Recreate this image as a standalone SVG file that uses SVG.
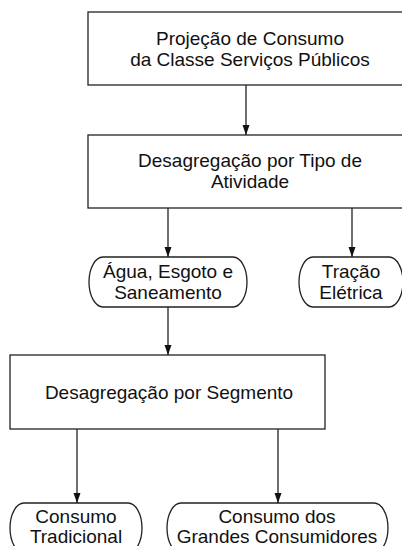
<svg xmlns="http://www.w3.org/2000/svg" width="402" height="546" viewBox="0 0 402 546">
<style>
.box{fill:#fff;stroke:#222;stroke-width:1.3}
.t{font-family:"Liberation Sans",Arial,sans-serif;font-size:19px;fill:#111;text-anchor:middle}
.c{stroke:#222;stroke-width:1.3;fill:none;marker-end:url(#ah)}
</style>
<defs>
<marker id="ah" markerUnits="userSpaceOnUse" markerWidth="10" markerHeight="8" refX="10" refY="4" orient="auto">
<path d="M0,0.5 L10,4 L0,7.5 z" fill="#111"/>
</marker>
</defs>
<rect width="402" height="546" fill="#fff"/>
<g id="n1">
<rect class="box" x="88" y="12" width="325" height="73"/>
<text class="t" x="250" y="45">Projeção de Consumo</text>
<text class="t" x="250" y="66">da Classe Serviços Públicos</text>
</g>
<g id="n2">
<rect class="box" x="88" y="135" width="325" height="73"/>
<text class="t" x="250" y="167">Desagregação por Tipo de</text>
<text class="t" x="250" y="188">Atividade</text>
</g>
<g id="n3">
<path class="box" d="M103,257 H233 A14 25 0 0 1 233,307 H103 A14 25 0 0 1 103,257 Z"/>
<text class="t" x="168" y="278">Água, Esgoto e</text>
<text class="t" x="168" y="299">Saneamento</text>
</g>
<g id="n4">
<path class="box" d="M313,257 H389 A14 25 0 0 1 389,307 H313 A14 25 0 0 1 313,257 Z"/>
<text class="t" x="351" y="278">Tração</text>
<text class="t" x="351" y="299">Elétrica</text>
</g>
<g id="n5">
<rect class="box" x="10" y="355" width="315" height="74"/>
<text class="t" x="169" y="399">Desagregação por Segmento</text>
</g>
<g id="n6">
<path class="box" d="M24,503 H128 A14 25 0 0 1 128,553 H24 A14 25 0 0 1 24,503 Z"/>
<text class="t" x="76" y="523">Consumo</text>
<text class="t" x="76" y="543">Tradicional</text>
</g>
<g id="n7">
<path class="box" d="M181,503 H374 A14 25 0 0 1 374,553 H181 A14 25 0 0 1 181,503 Z"/>
<text class="t" x="277" y="523">Consumo dos</text>
<text class="t" x="277" y="543">Grandes Consumidores</text>
</g>
<g id="connectors">
<line class="c" x1="246" y1="85" x2="246" y2="135"/>
<line class="c" x1="168" y1="208" x2="168" y2="257"/>
<line class="c" x1="352" y1="208" x2="352" y2="257"/>
<line class="c" x1="168" y1="307" x2="168" y2="355"/>
<line class="c" x1="77" y1="429" x2="77" y2="503"/>
<line class="c" x1="278" y1="429" x2="278" y2="503"/>
</g>
</svg>
